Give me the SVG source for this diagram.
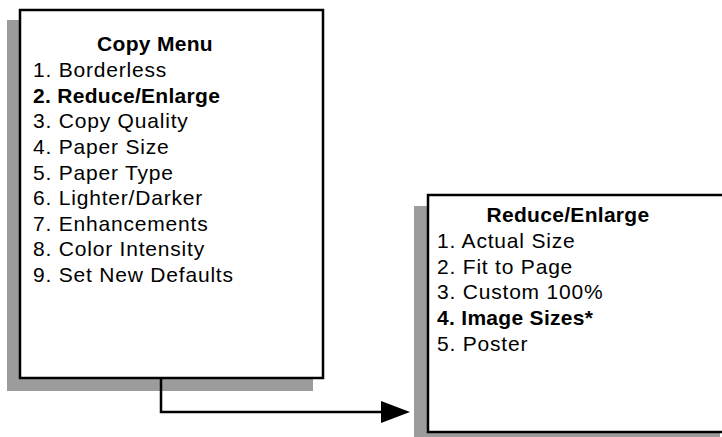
<svg xmlns="http://www.w3.org/2000/svg" width="722" height="437" viewBox="0 0 722 437">
<defs>
<style>
.shadow{fill:#9c9c9c;stroke:none}
.box{fill:#fff;stroke:#000;stroke-width:2.5}
.t{font-family:"Liberation Sans",Arial,sans-serif;font-size:21px;fill:#000;letter-spacing:0.8px}
.b{font-weight:bold;letter-spacing:0.3px}
.c{text-anchor:middle}
.conn{fill:none;stroke:#000;stroke-width:2.5}
</style>
</defs>
<g id="copy-menu">
<rect class="shadow" x="7" y="20" width="306" height="371"/>
<rect class="box" x="20" y="10" width="303" height="368"/>
<text class="t b c" x="155" y="51">Copy Menu</text>
<text class="t" x="33" y="77">1. Borderless</text>
<text class="t b" x="33" y="103">2. Reduce/Enlarge</text>
<text class="t" x="33" y="128">3. Copy Quality</text>
<text class="t" x="33" y="154">4. Paper Size</text>
<text class="t" x="33" y="180">5. Paper Type</text>
<text class="t" x="33" y="205">6. Lighter/Darker</text>
<text class="t" x="33" y="231">7. Enhancements</text>
<text class="t" x="33" y="256">8. Color Intensity</text>
<text class="t" x="33" y="282">9. Set New Defaults</text>
</g>
<g id="reduce-enlarge">
<rect class="shadow" x="414" y="206" width="306" height="231"/>
<rect class="box" x="428" y="195" width="300" height="237"/>
<text class="t b c" x="568" y="222">Reduce/Enlarge</text>
<text class="t" x="437" y="248">1. Actual Size</text>
<text class="t" x="437" y="274">2. Fit to Page</text>
<text class="t" x="437" y="299">3. Custom 100%</text>
<text class="t b" x="437" y="325">4. Image Sizes*</text>
<text class="t" x="437" y="351">5. Poster</text>
</g>
<g id="connectors">
<path class="conn" d="M161,378 V412 H385"/>
<path d="M381,401 L410,412 L381,423 Z" fill="#000"/>
</g>
</svg>
